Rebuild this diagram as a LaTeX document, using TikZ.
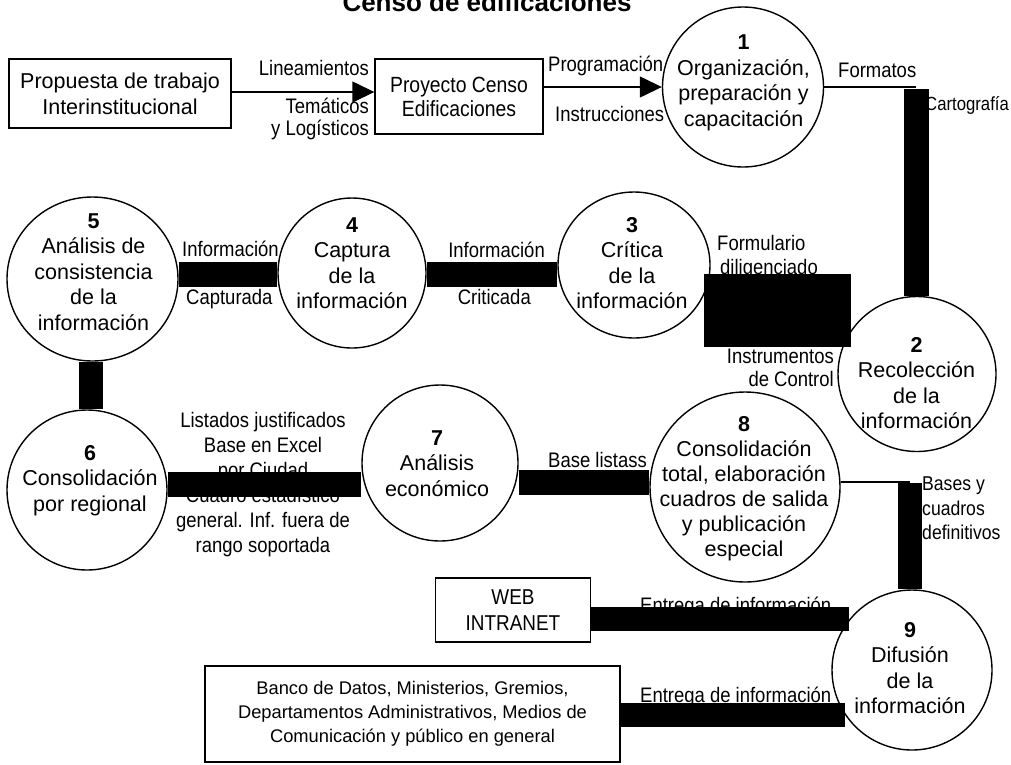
\documentclass[tikz,border=0pt]{standalone}
\usepackage{fontspec}
\setmainfont{Liberation Sans}
\newfontfamily\narrowfont[FakeStretch=0.88]{Liberation Sans}
\usetikzlibrary{shapes.geometric,arrows.meta,calc}
\begin{document}
\begin{tikzpicture}[x=1pt,y=-1pt,
  proc/.style={draw,line width=1.4pt,ellipse,inner sep=0pt},
  ptxt/.style={align=center,inner sep=0pt,anchor=north,font=\fontsize{21.5}{25.5}\selectfont},
  box/.style={draw,line width=1.4pt,inner sep=0pt,align=center},
  lbl/.style={inner sep=0pt,font=\narrowfont\fontsize{21}{25}\selectfont},
  bar/.style={line width=24.5pt,draw=black},
  bigbar/.style={line width=73pt,draw=black},
  flow/.style={line width=1.4pt,-{Triangle[length=22pt,width=21pt]}},
  thinline/.style={line width=1.4pt}
]
\useasboundingbox (0,0) rectangle (1011,764);
\fill[white] (0,0) rectangle (1011,764);

% title (cut off at the top)
\node[font=\bfseries\fontsize{26}{30}\selectfont,anchor=base,inner sep=0pt] (title) at (487,11) {Censo de edificaciones};

% boxes
\node[box,minimum width=222pt,minimum height=69pt,font=\fontsize{21.5}{26}\selectfont] (pa) at (120,93.5) {Propuesta de trabajo\\Interinstitucional};
\node[box,minimum width=168pt,minimum height=75pt,font=\narrowfont\fontsize{22}{24}\selectfont] (pb) at (459,96.5) {Proyecto Censo\\Edificaciones};
\node[box,minimum width=155pt,minimum height=64pt,font=\narrowfont\fontsize{21.5}{26}\selectfont] (web) at (513,610) {WEB\\INTRANET};
\node[box,minimum width=415pt,minimum height=96pt,font=\fontsize{18.3}{24}\selectfont] (banco) at (412.5,714) {Banco de Datos, Ministerios, Gremios,\\Departamentos Administrativos, Medios de\\Comunicación y público en general};

% processes
\node[proc,minimum width=161pt,minimum height=160pt] (c1) at (743,87) {};
\node[proc,minimum width=158pt,minimum height=155pt] (c2) at (917,374) {};
\node[proc,minimum width=152pt,minimum height=146pt] (c3) at (634,265) {};
\node[proc,minimum width=148pt,minimum height=150pt] (c4) at (352,273) {};
\node[proc,minimum width=171pt,minimum height=164pt] (c5) at (92.5,279) {};
\node[proc,minimum width=160pt,minimum height=160pt] (c6) at (87,490) {};
\node[proc,minimum width=156pt,minimum height=156pt] (c7) at (440,463) {};
\node[proc,minimum width=190pt,minimum height=190pt] (c8) at (745,487) {};
\node[proc,minimum width=160pt,minimum height=160pt] (c9) at (912,670) {};

\node[ptxt] (t1) at (743.5,35) {\textbf{1}\\Organización,\\preparación y\\capacitación};
\node[ptxt] (t2) at (916.5,337) {\textbf{2}\\Recolección\\de la\\información};
\node[ptxt] (t3) at (632,217) {\textbf{3}\\Crítica\\de la\\información};
\node[ptxt] (t4) at (352,217) {\textbf{4}\\Captura\\de la\\información};
\node[ptxt] (t5) at (93.5,213) {\textbf{5}\\Análisis de\\consistencia\\de la\\información};
\node[ptxt] (t6) at (90,445) {\textbf{6}\\Consolidación\\por regional};
\node[ptxt] (t7) at (437,430) {\textbf{7}\\Análisis\\económico};
\node[ptxt,font=\fontsize{21.5}{25}\selectfont] (t8) at (744,416) {\textbf{8}\\Consolidación\\total, elaboración\\cuadros de salida\\y publicación\\especial};
\node[ptxt] (t9) at (910,622) {\textbf{9}\\Difusión\\de la\\información};

% labels
\node[lbl,anchor=base east] (l1) at (369,75) {Lineamientos};
\node[lbl,anchor=base east] (l2) at (369,113) {Temáticos};
\node[lbl,anchor=base east] (l3) at (369,135) {y Logísticos};
\node[lbl,anchor=base west] (l4) at (548,71) {Programación};
\node[lbl,anchor=base west] (l5) at (555,121) {Instrucciones};
\node[lbl,anchor=base west] (l6) at (838,77) {Formatos};
\node[lbl,anchor=base west,font=\narrowfont\fontsize{19}{24}\selectfont] (l7) at (925,110) {Cartografía};
\node[lbl,anchor=base west] (l8) at (182,256) {Información};
\node[lbl,anchor=base west] (l9) at (186,304) {Capturada};
\node[lbl,anchor=base east] (l10) at (545,257) {Información};
\node[lbl,anchor=base east] (l11) at (531,304) {Criticada};
\node[lbl,anchor=base west] (l12) at (717,250) {Formulario};
\node[lbl,anchor=base west] (l13) at (720,274) {diligenciado};
\node[lbl,anchor=base east] (l14) at (834,363) {Instrumentos};
\node[lbl,anchor=base east] (l15) at (834,386) {de Control};
\node[lbl,anchor=north,align=center] (l16) at (263,412) {Listados justificados\\Base en Excel\\por Ciudad\\Cuadro estadístico\\general. Inf. fuera de\\rango soportada};
\node[lbl,anchor=base west] (l17) at (548,467) {Base listass};
\node[lbl,anchor=north west,align=left,font=\narrowfont\fontsize{20}{24.5}\selectfont] (l18) at (922,477) {Bases y\\cuadros\\definitivos};
\node[lbl,anchor=base west] (l19) at (640,612) {Entrega de información};
\node[lbl,anchor=base west] (l20) at (640,702) {Entrega de información};

% helper coordinates
\coordinate (hab) at (0,92);
\coordinate (h54) at (0,274.5);
\coordinate (h32) at (0,310.5);
\coordinate (v56) at (91,0);
\coordinate (h67) at (0,484.5);
\coordinate (h78) at (0,482.5);
\coordinate (f1) at (916,87);
\coordinate (f1b) at (916,89);
\coordinate (f8) at (910,482);
\coordinate (f8b) at (910,483);

% connectors
\draw[flow] (pa.east |- hab) -- (pb.west |- hab);
\draw[flow] (pb.east |- c1.west) -- (c1.west);
\draw[thinline] (c1.east) -- (f1);
\draw[line width=25pt] (f1b) -- (f1b |- c2.north);
\draw[bigbar] ($(c3.east |- h32)+(-7,0)$) -- ($(c2.west |- h32)+(14,0)$);
\draw[bar] (c4.east |- h54) -- (c3.west |- h54);
\draw[bar] (c5.east |- h54) -- (c4.west |- h54);
\draw[bar] (v56 |- c5.south) -- (v56 |- c6.north);
\draw[bar] (c6.east |- h67) -- (c7.west |- h67);
\draw[bar] (c7.east |- h78) -- (c8.west |- h78);
\draw[thinline] (c8.east |- f8) -- (f8);
\draw[bar] (f8b) -- (f8b |- c9.north);
\draw[bar] (web.east |- c9.141) -- (c9.141);
\draw[bar] (banco.east |- c9.214) -- (c9.214);
\end{tikzpicture}
\end{document}
